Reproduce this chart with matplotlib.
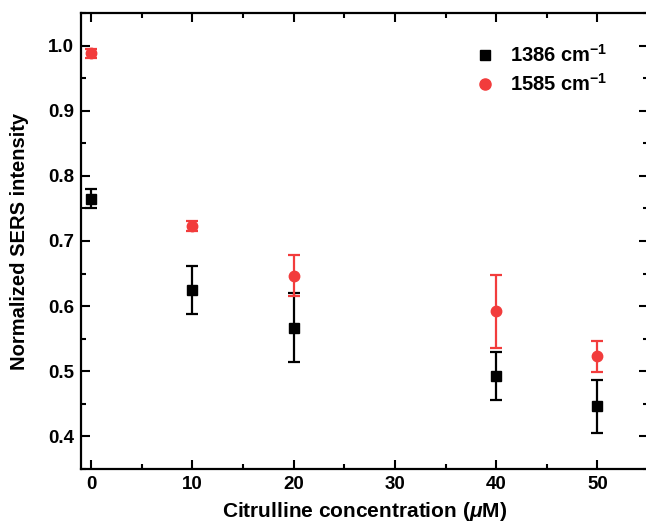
import matplotlib
matplotlib.use("Agg")
import matplotlib.pyplot as plt
from matplotlib.ticker import MultipleLocator
from matplotlib.lines import Line2D

plt.rcParams['font.family'] = ['Liberation Sans', 'DejaVu Sans']
plt.rcParams['font.weight'] = 'bold'
plt.rcParams['mathtext.fontset'] = 'custom'
plt.rcParams['mathtext.rm'] = 'Liberation Sans:bold'
plt.rcParams['mathtext.it'] = 'Liberation Sans:bold:italic'
plt.rcParams['mathtext.bf'] = 'Liberation Sans:bold'

conc = [0, 10, 20, 40, 50]
i1386 = [0.765, 0.625, 0.567, 0.493, 0.446]
e1386 = [0.015, 0.037, 0.053, 0.037, 0.041]
i1585 = [0.988, 0.723, 0.647, 0.592, 0.523]
e1585 = [0.007, 0.008, 0.032, 0.056, 0.024]
labels = ['1386 cm$^{-1}$', '1585 cm$^{-1}$']

red = '#f23c3c'

fig = plt.figure(figsize=(6.46, 5.22), dpi=100)
ax = fig.add_axes([81/646, 1-469/522, 567/646, 456/522])

ax.errorbar(conc, i1386, yerr=e1386, fmt='s', color='black', ms=6.5,
            capsize=4.5, capthick=1.6, elinewidth=1.6, zorder=3)
ax.errorbar(conc, i1585, yerr=e1585, fmt='o', color=red, ms=7.5,
            capsize=4.5, capthick=1.6, elinewidth=1.6, zorder=3)

ax.set_xlim(-1, 55)
ax.set_ylim(0.35, 1.05)
ax.xaxis.set_major_locator(MultipleLocator(10))
ax.xaxis.set_minor_locator(MultipleLocator(5))
ax.yaxis.set_major_locator(MultipleLocator(0.1))
ax.yaxis.set_minor_locator(MultipleLocator(0.05))
ax.tick_params(which='both', direction='in', top=True, right=True, width=1.5, labelsize=13.5)
ax.tick_params(which='major', length=6.5, pad=5)
ax.tick_params(which='minor', length=3.5)
for s in ax.spines.values():
    s.set_linewidth(1.6)

ax.set_xlabel('Citrulline concentration ($\\mu$M)', fontsize=15, fontweight='bold')
ax.set_ylabel('Normalized SERS intensity', fontsize=14.5, fontweight='bold')
ax.xaxis.set_label_coords(0.5, (469-500)/456)
ax.yaxis.set_label_coords((29-81)/567, 0.5)

handles = [Line2D([], [], ls='none', marker='s', color='black', ms=7.5),
           Line2D([], [], ls='none', marker='o', color=red, ms=8)]
leg = fig.legend(handles, labels, loc='upper left', bbox_to_anchor=(475/646, 1-44/522),
                 frameon=False, fontsize=14.5, handlelength=1.0, handletextpad=0.75,
                 labelspacing=0.35, borderpad=0, borderaxespad=0)

fig.savefig('out.png', dpi=100)
